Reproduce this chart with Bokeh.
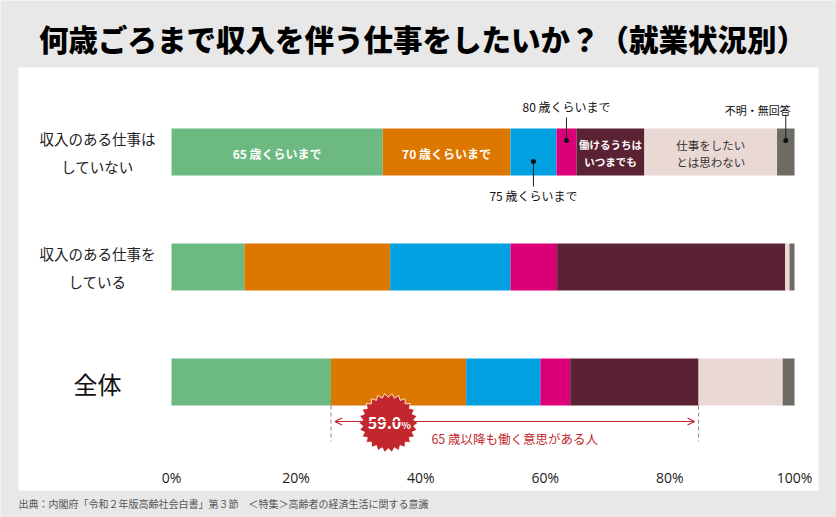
import numpy as np
from bokeh.plotting import figure
from bokeh.models import Range1d, LinearAxis, FixedTicker, Arrow, OpenHead
from bokeh.core.properties import value
from bokeh.embed import file_html
from bokeh.resources import INLINE

# ---------------- data ----------------
title_text = "何歳ごろまで収入を伴う仕事をしたいか？（就業状況別）"
source_text = "出典：内閣府「令和２年版高齢社会白書」第３節　＜特集＞高齢者の経済生活に関する意識"
categories = ["収入のある仕事は\nしていない", "収入のある仕事を\nしている", "全体"]
series = ["65 歳くらいまで", "70 歳くらいまで", "75 歳くらいまで", "80 歳くらいまで",
          "働けるうちは\nいつまでも", "仕事をしたい\nとは思わない", "不明・無回答"]
not_working = [33.9, 20.5, 7.4, 3.2, 10.9, 21.3, 2.8]
working = [11.7, 23.4, 19.3, 7.5, 36.6, 0.7, 0.8]
total = [25.6, 21.7, 11.9, 4.8, 20.6, 13.5, 1.9]
ticks = [0, 20, 40, 60, 80, 100]
tick_labels = ["0%", "20%", "40%", "60%", "80%", "100%"]
highlight_value = "59.0"
highlight_text = "65 歳以降も働く意思がある人"

colors = ["#6cb981", "#dc7800", "#00a0e1", "#dc0078", "#5a2233", "#ead8d5", "#6e6a64"]
rows = [not_working, working, total]

# ---------------- layout helpers ----------------
W, H = 836, 517
X0, X100 = 171.0, 794.0
S = (X100 - X0) / 100.0          # pixels per percent
def px(xp):                      # pixel -> percent coordinate
    return (xp - X0) / S

ROW_Y0, ROW_STEP, BAR_H = 151.5, 115.0, 47
FONT = value("Noto Sans CJK JP")
TITLE_FONT = value("'Noto Sans CJK JP Black', 'Noto Sans CJK JP'")

p = figure(width=W, height=H, output_backend="svg", toolbar_location=None,
           x_range=Range1d(px(0), px(W)), y_range=Range1d(H, 0),
           x_axis_location=None, y_axis_location=None, min_border=0,
           background_fill_color="#e8e8e8", border_fill_color="#e8e8e8",
           outline_line_color=None)
p.grid.visible = False

# white panel
p.quad(left=[px(18)], right=[px(818)], top=[67], bottom=[490],
       fill_color="white", line_color=None)

# title
p.text(x=[px(422)], y=[37], text=[title_text], text_font=TITLE_FONT, text_font_style="bold",
       text_font_size="29.5px", text_align="center", text_baseline="middle", text_color="#000000")
# source
p.text(x=[px(18)], y=[503], text=[source_text], text_font=FONT, text_font_size="10px",
       text_align="left", text_baseline="middle", text_color="#555555")

# bars
for r, vals in enumerate(rows):
    yc = ROW_Y0 + ROW_STEP * r
    cum = np.concatenate([[0], np.cumsum(vals)])
    p.hbar(y=[yc] * len(vals), left=cum[:-1], right=cum[1:], height=BAR_H,
           fill_color=colors, line_color=None)

# category labels
for r, cat in enumerate(categories):
    yc = ROW_Y0 + ROW_STEP * r
    lines = cat.split("\n")
    if len(lines) == 1:
        p.text(x=[px(97)], y=[yc + 1], text=lines, text_font=FONT, text_font_size="24px",
               text_align="center", text_baseline="middle", text_color="#111111")
    else:
        for k, ln in enumerate(lines):
            p.text(x=[px(97)], y=[yc - 13.5 + 27.5 * k], text=[ln], text_font=FONT,
                   text_font_size="14.5px", text_align="center", text_baseline="middle",
                   text_color="#222222")

# labels inside first row
vals = rows[0]
cum = np.concatenate([[0], np.cumsum(vals)])
mid = (cum[:-1] + cum[1:]) / 2
yc = ROW_Y0
for i in (0, 1):
    p.text(x=[mid[i]], y=[yc + 1], text=[series[i]], text_font=FONT, text_font_style="bold",
           text_font_size="12px", text_align="center", text_baseline="middle", text_color="white")
for i, col, fs in ((4, "white", "10.5px"), (5, "#333333", "11.5px")):
    lines = series[i].split("\n")
    for k, ln in enumerate(lines):
        p.text(x=[mid[i]], y=[yc - 7.5 + 17 * k], text=[ln], text_font=FONT,
               text_font_style="bold" if i == 4 else "normal",
               text_font_size=fs, text_align="center", text_baseline="middle", text_color=col)

# callouts: 75 (below), 80 (above), 不明 (above)
callouts = [(2, 161, 186, 195, "12px"), (3, 140, 117, 106, "12px"), (6, 140, 114, 109, "11px")]
for i, ydot, yend, ytext, fs in callouts:
    p.segment(x0=[mid[i]], y0=[ydot], x1=[mid[i]], y1=[yend], line_color="#222222", line_width=1)
    p.scatter(x=[mid[i]], y=[ydot], size=5, fill_color="#111111", line_color=None)
    xt = mid[i] if i != 6 else mid[i] - px(786) + px(758)
    p.text(x=[xt], y=[ytext], text=[series[i]], text_font=FONT, text_font_size=fs,
           text_align="center", text_baseline="middle", text_color="#111111")

# total-row annotation
tv = rows[2]
tcum = np.concatenate([[0], np.cumsum(tv)])
a_start, a_end = tcum[1], tcum[5]
ybot = ROW_Y0 + ROW_STEP * 2 + BAR_H / 2
p.segment(x0=[a_start, a_end], y0=[ybot, ybot], x1=[a_start, a_end], y1=[ybot + 36, ybot + 36],
          line_color="#888888", line_width=1, line_dash="4 3")
red = "#c1272d"
ya = ybot + 16
p.add_layout(Arrow(start=OpenHead(size=7, line_color=red, line_width=1.2),
                   end=OpenHead(size=7, line_color=red, line_width=1.2),
                   x_start=a_start + 4 / S, y_start=ya, x_end=a_end - 4 / S, y_end=ya,
                   line_color=red, line_width=1.2))
# starburst badge
cx, cy = a_start + 9.2, ya + 1.5
n = 26
t = np.linspace(0, 2 * np.pi, 2 * n, endpoint=False)
rad = np.where(np.arange(2 * n) % 2 == 0, 29.5, 25.5)
p.patch(x=cx + rad * np.cos(t) / S, y=cy + rad * np.sin(t), fill_color=red,
        line_color="white", line_width=0.8)
p.text(x=[cx + 13 / S], y=[cy], text=[highlight_value], text_font=FONT, text_font_style="bold",
       text_font_size="16px", text_align="right", text_baseline="middle", text_color="white")
p.text(x=[cx + 13 / S], y=[cy + 1.5], text=["%"], text_font=FONT, text_font_style="bold",
       text_font_size="10px", text_align="left", text_baseline="middle", text_color="white")
p.text(x=[(a_start + a_end) / 2], y=[ybot + 33], text=[highlight_text], text_font=FONT,
       text_font_size="12.5px", text_align="center", text_baseline="middle", text_color=red)

# x axis (tick labels only)
ax = LinearAxis(fixed_location=466, ticker=FixedTicker(ticks=ticks),
                major_label_overrides={t_: l for t_, l in zip(ticks, tick_labels)},
                axis_line_color=None, major_tick_line_color=None, minor_tick_line_color=None,
                major_tick_out=0, major_tick_in=0,
                major_label_text_font="Open Sans", major_label_text_font_size="14px",
                major_label_text_color="#222222", major_label_standoff=1)
p.add_layout(ax, "below")

open("out.html", "w").write(file_html(p, INLINE))
